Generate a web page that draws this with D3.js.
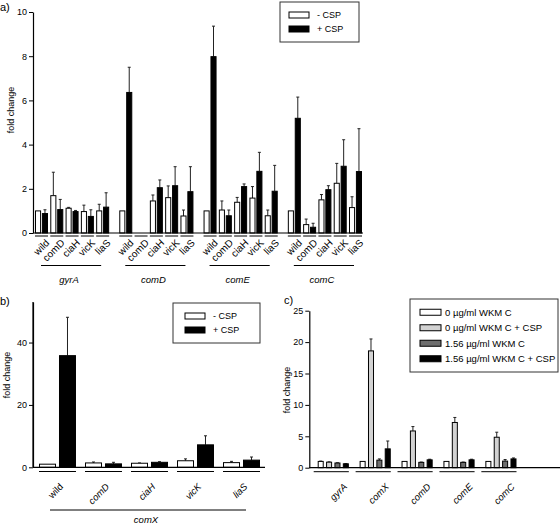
<!DOCTYPE html>
<html><head><meta charset="utf-8">
<script src="https://cdn.jsdelivr.net/npm/d3@7"></script>
<style>
body{margin:0;background:#fff;}
svg{display:block;font-family:"Liberation Sans",Arial,sans-serif;}
</style></head>
<body><svg id="chart" width="560" height="525"></svg>
<script>
// ---------- DATA ----------
const groupsA = ["gyrA","comD","comE","comC"];
const genesA = ["wild","comD","ciaH","vicK","liaS"];
const aMinus = [[1.0,1.69,1.12,0.97,1.0],[1.0,0,1.45,1.6,0.77],[1.0,1.04,1.39,1.58,0.78],[1.0,0.38,1.5,2.25,1.15]];
const aMinusErr = [[0,1.06,0.04,0.29,0.3],[0,0,0.27,0.53,0.27],[0,0.41,0.22,0.52,0.26],[0,0.25,0.24,0.9,0.49]];
const aPlus = [[0.88,1.06,0.97,0.75,1.17],[6.36,0,2.05,2.14,1.87],[7.98,0.78,2.1,2.79,1.89],[5.19,0.26,1.96,3.02,2.78]];
const aPlusErr = [[0.17,0.46,0.05,0.3,0.65],[1.14,0,0.35,0.86,1.13],[1.38,0.26,0.12,0.86,1.17],[0.96,0.18,0.18,1.2,1.94]];
const ticksA = [0,2,4,6,8,10];

const genesB = ["wild","comD","ciaH","vicK","liaS"];
const bMinus = [1.0,1.4,1.3,2.1,1.5];
const bMinusErr = [0,0.3,0.1,0.6,0.4];
const bPlus = [35.8,1.1,1.6,7.2,2.3];
const bPlusErr = [12.3,0.5,0.2,2.9,1.0];
const ticksB = [0,20,40];
const groupB = "comX";

const genesC = ["gyrA","comX","comD","comE","comC"];
const seriesC = ["0 µg/ml WKM C","0 µg/ml WKM C + CSP","1.56 µg/ml WKM C","1.56 µg/ml WKM C + CSP"];
const c0 = [1.0,1.0,1.0,1.0,1.0];
const c0Err = [0.05,0,0,0,0];
const c1 = [0.88,18.6,5.85,7.2,4.85];
const c1Err = [0.05,1.9,0.7,0.8,0.8];
const c2 = [0.75,1.2,0.85,0.85,1.05];
const c2Err = [0.03,0.2,0.05,0.05,0.25];
const c3 = [0.62,3.0,1.25,1.25,1.4];
const c3Err = [0.03,1.25,0.1,0.1,0.15];
const ticksC = [0,5,10,15,20,25];

const seriesAB = ["- CSP","+ CSP"];
const colorsAB = ["#ffffff","#000000"];
const colorsC = ["#ffffff","#d2d2d2","#6e6e6e","#000000"];

// ---------- DRAW ----------
const svg = d3.select("#chart");
const FS = 9;

function yAxis(g, y, x0, ticks) {
  const ax = g.append("g").attr("transform", `translate(${x0},0)`)
    .call(d3.axisLeft(y).tickValues(ticks).tickSize(4).tickPadding(2).tickSizeOuter(0));
  ax.select(".domain").attr("stroke","#000").attr("stroke-width",1.2);
  ax.selectAll(".tick line").attr("stroke","#000");
  ax.selectAll("text").attr("font-size",FS).attr("font-family","Liberation Sans, Arial, sans-serif").attr("fill","#000");
  return ax;
}
function bars(g, data, y) {
  const d = data.filter(o => o.v > 0);
  g.selectAll(null).data(d).enter().append("line")
    .attr("x1", o => o.x + o.w/2).attr("x2", o => o.x + o.w/2)
    .attr("y1", o => y(o.v)).attr("y2", o => y(o.v + o.e))
    .attr("stroke","#222").attr("stroke-width",1);
  g.selectAll(null).data(d.filter(o=>o.e>0)).enter().append("line")
    .attr("x1", o => o.x + o.w/2 - 1.5).attr("x2", o => o.x + o.w/2 + 1.5)
    .attr("y1", o => y(o.v + o.e)).attr("y2", o => y(o.v + o.e))
    .attr("stroke","#222").attr("stroke-width",1);
  g.selectAll(null).data(d).enter().append("rect")
    .attr("x", o => o.x + 0.5).attr("width", o => o.w - 1)
    .attr("y", o => y(o.v)).attr("height", o => y(0) - y(o.v))
    .attr("fill", o => o.fill).attr("stroke","#000").attr("stroke-width",1);
}
function rotLabel(g, x, y, t, italic, fs) {
  g.append("text").attr("transform", `translate(${x},${y}) rotate(-45)`)
    .attr("text-anchor","end").attr("font-size",fs).attr("dy","0.35em")
    .attr("font-style", italic ? "italic" : "normal").text(t);
}
function legend(g, x, y, w, h, labels, colors, sw, rowH, fs) {
  g.append("rect").attr("x",x).attr("y",y).attr("width",w).attr("height",h)
    .attr("fill","#fff").attr("stroke","#333").attr("stroke-width",1);
  labels.forEach((l,i) => {
    const cy = y + rowH*(i+0.5) + (h - rowH*labels.length)/2;
    g.append("rect").attr("x", x + sw.x).attr("y", cy - sw.h/2).attr("width", sw.w).attr("height", sw.h)
      .attr("fill", colors[i]).attr("stroke","#000");
    g.append("text").attr("x", x + sw.x + sw.w + sw.gap).attr("y", cy).attr("dy","0.35em")
      .attr("font-size", fs).text(l);
  });
}

// ===== Panel a =====
{
  const g = svg.append("g");
  const y = d3.scaleLinear().domain([0,10]).range([233,12]);
  const xg = d3.scaleBand().domain(groupsA).range([35,362]).paddingInner(0.12).paddingOuter(0);
  const xp = d3.scaleBand().domain(genesA).range([0, xg.bandwidth()]).paddingInner(0.15).paddingOuter(0);
  const xs = d3.scaleBand().domain(seriesAB).range([0, xp.bandwidth()]).paddingInner(0.12).paddingOuter(0);
  const data = [];
  groupsA.forEach((gr,gi) => genesA.forEach((ge,ji) => {
    const px = xg(gr) + xp(ge);
    data.push({x: px + xs("- CSP"), w: xs.bandwidth(), v: aMinus[gi][ji], e: aMinusErr[gi][ji], fill: colorsAB[0]});
    data.push({x: px + xs("+ CSP"), w: xs.bandwidth(), v: aPlus[gi][ji], e: aPlusErr[gi][ji], fill: colorsAB[1]});
  }));
  bars(g, data, y);
  yAxis(g, y, 33, ticksA);
  g.append("line").attr("x1",33).attr("x2",363).attr("y1",y(0)).attr("y2",y(0)).attr("stroke","#000").attr("stroke-width",1.2);
  groupsA.forEach(gr => {
    genesA.forEach(ge => {
      const px = xg(gr) + xp(ge);
      g.append("line").attr("x1",px).attr("x2",px + xp.bandwidth()).attr("y1",236).attr("y2",236).attr("stroke","#000");
      rotLabel(g, px + xp.bandwidth()/2 + 6, 241, ge, false, 10);
    });
    g.append("line").attr("x1", xg(gr)+6).attr("x2", xg(gr)+xg.bandwidth()-8).attr("y1",265.5).attr("y2",265.5).attr("stroke","#000");
    g.append("text").attr("x", xg(gr)+xg.bandwidth()/2 - 3).attr("y",283).attr("text-anchor","middle")
      .attr("font-size",9.5).attr("font-style","italic").text(gr);
  });
  g.append("text").attr("transform","translate(14,110) rotate(-90)").attr("text-anchor","middle").attr("font-size",FS).text("fold change");
  g.append("text").attr("x",0).attr("y",11).attr("font-size",11).text("a)");
  legend(g, 280, 2, 79, 40, seriesAB, colorsAB, {x:9,w:20,h:6,gap:8}, 14, 9);
}

// ===== Panel b =====
{
  const g = svg.append("g");
  const y = d3.scaleLinear().domain([0,53]).range([467.3,302]);
  const xp = d3.scaleBand().domain(genesB).range([39,260]).paddingInner(0.196).paddingOuter(0);
  const xs = d3.scaleBand().domain(seriesAB).range([0, xp.bandwidth()]).paddingInner(0.15).paddingOuter(0);
  const data = [];
  genesB.forEach((ge,i) => {
    data.push({x: xp(ge)+xs("- CSP"), w: xs.bandwidth(), v: bMinus[i], e: bMinusErr[i], fill: colorsAB[0]});
    data.push({x: xp(ge)+xs("+ CSP"), w: xs.bandwidth(), v: bPlus[i], e: bPlusErr[i], fill: colorsAB[1]});
  });
  bars(g, data, y);
  yAxis(g, y, 33, ticksB);
  g.append("line").attr("x1",33).attr("x2",33).attr("y1",302).attr("y2",467.3).attr("stroke","#000").attr("stroke-width",1.2);
  g.append("line").attr("x1",33).attr("x2",265).attr("y1",y(0)).attr("y2",y(0)).attr("stroke","#000").attr("stroke-width",1.2);
  genesB.forEach((ge,i) => {
    g.append("line").attr("x1",xp(ge)).attr("x2",xp(ge)+xp.bandwidth()).attr("y1",471.5).attr("y2",471.5).attr("stroke","#000");
    rotLabel(g, xp(ge)+xp.bandwidth()/2 + 4, 485, ge, i > 0, 9.5);
  });
  g.append("line").attr("x1",50).attr("x2",246).attr("y1",510).attr("y2",510).attr("stroke","#000");
  g.append("text").attr("x",146).attr("y",523).attr("text-anchor","middle").attr("font-size",9.5).attr("font-style","italic").text(groupB);
  g.append("text").attr("transform","translate(10,375) rotate(-90)").attr("text-anchor","middle").attr("font-size",FS).text("fold change");
  g.append("text").attr("x",0).attr("y",305).attr("font-size",11).text("b)");
  legend(g, 173, 303, 87, 40, seriesAB, colorsAB, {x:12,w:20,h:6,gap:8}, 14, 9);
}

// ===== Panel c =====
{
  const g = svg.append("g");
  const y = d3.scaleLinear().domain([0,25]).range([467.7,310.7]);
  const xp = d3.scaleBand().domain(genesC).range([317.7,516.5]).paddingInner(0.257).paddingOuter(0);
  const xs = d3.scaleBand().domain(seriesC).range([0, xp.bandwidth()]).paddingInner(0.28).paddingOuter(0);
  const vals = [c0,c1,c2,c3], errs = [c0Err,c1Err,c2Err,c3Err];
  const data = [];
  genesC.forEach((ge,i) => seriesC.forEach((s,k) => {
    data.push({x: xp(ge)+xs(s), w: xs.bandwidth(), v: vals[k][i], e: errs[k][i], fill: colorsC[k]});
  }));
  bars(g, data, y);
  yAxis(g, y, 309.3, ticksC);
  g.append("line").attr("x1",309.3).attr("x2",560).attr("y1",y(0)).attr("y2",y(0)).attr("stroke","#000").attr("stroke-width",1.2);
  genesC.forEach(ge => {
    g.append("line").attr("x1",xp(ge)-4).attr("x2",xp(ge)+xp.bandwidth()).attr("y1",471.7).attr("y2",471.7).attr("stroke","#000");
    rotLabel(g, xp(ge)+xp.bandwidth()/2 + 12, 485, ge, true, 9.5);
  });
  g.append("text").attr("transform","translate(290,390) rotate(-90)").attr("text-anchor","middle").attr("font-size",FS).text("fold change");
  g.append("text").attr("x",284).attr("y",304).attr("font-size",11).text("c)");
  legend(g, 410, 299, 148, 73, seriesC, colorsC, {x:10,w:21,h:6,gap:4}, 15.5, 9.5);
}
</script></body></html>
